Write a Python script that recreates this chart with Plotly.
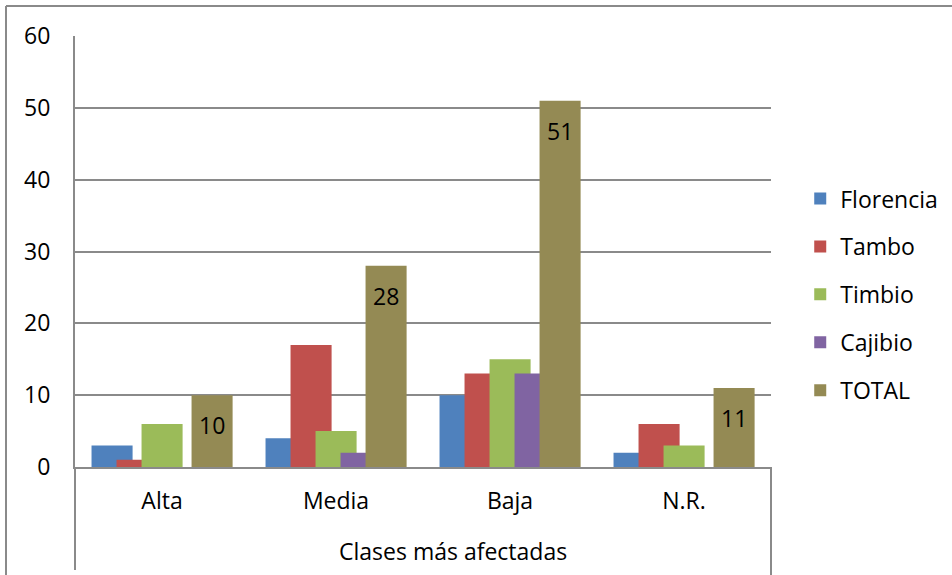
import plotly.graph_objects as go

# Datos
clases = ["Alta", "Media", "Baja", "N.R."]
florencia = [3, 4, 10, 2]
tambo = [1, 17, 13, 6]
timbio = [6, 5, 15, 3]
cajibio = [0, 2, 13, 0]
total = [10, 28, 51, 11]

series = [
    ("Florencia", florencia, "#4F81BD"),
    ("Tambo", tambo, "#C0504D"),
    ("Timbio", timbio, "#9BBB59"),
    ("Cajibio", cajibio, "#8064A2"),
    ("TOTAL", total, "#948A54"),
]

FONT = "Open Sans"
TAM = 23
GRIS = "#8a8a8a"

# barras superpuestas al estilo Excel (ancho y paso en unidades de categoría)
ancho = 0.236
paso = 0.1437
inicio = -0.405

fig = go.Figure()
for i, (nombre, valores, color) in enumerate(series):
    fig.add_trace(go.Bar(
        x=clases,
        y=valores,
        name=nombre,
        marker=dict(color=color, line=dict(width=0)),
        width=ancho,
        offset=inicio + i * paso,
        legendgroup=nombre,
    ))

# etiquetas de la serie TOTAL
centro_total = inicio + 4 * paso + ancho / 2
for i, v in enumerate(total):
    fig.add_annotation(
        x=i + centro_total, y=v, xref="x", yref="y",
        text=str(v), showarrow=False, yshift=-30,
        font=dict(family=FONT, size=TAM, color="#000000"),
    )

# título del eje de categorías
fig.add_annotation(
    x=(453 - 75) / 696, y=(467 - 551) / 431, xref="paper", yref="paper",
    xanchor="center", yanchor="middle",
    text="Clases más afectadas", showarrow=False,
    font=dict(family=FONT, size=TAM, color="#000000"),
)

# bordes de la tabla alrededor del gráfico
lineas = [
    (-69 / 696, 1.0696, 1.5, 1.0696),
    (-69 / 696, -0.26, -69 / 696, 1.0696),
    (0, 0, 0, -103 / 431),
    (1, 0, 1, -0.26),
]
for x0, y0, x1, y1 in lineas:
    fig.add_shape(type="line", xref="paper", yref="paper",
                  x0=x0, y0=y0, x1=x1, y1=y1,
                  line=dict(color=GRIS, width=2))

fig.update_layout(
    width=952, height=575,
    barmode="overlay",
    paper_bgcolor="white", plot_bgcolor="white",
    margin=dict(l=75, r=181, t=36, b=108, autoexpand=False),
    font=dict(family=FONT, size=TAM, color="#000000"),
    legend=dict(
        x=1.042, y=0.40, xanchor="left", yanchor="middle",
        font=dict(family=FONT, size=TAM),
        tracegroupgap=15,
        bgcolor="rgba(0,0,0,0)",
    ),
    showlegend=True,
)
fig.update_yaxes(
    range=[0, 60], dtick=10, tick0=0, automargin=False,
    showgrid=True, gridcolor=GRIS, gridwidth=2,
    showline=True, linecolor=GRIS, linewidth=2,
    zeroline=False, ticks="", ticklabelstandoff=18,
    tickfont=dict(family=FONT, size=TAM, color="#000000"),
)
fig.update_xaxes(
    automargin=False,
    showline=True, linecolor=GRIS, linewidth=2,
    ticks="", ticklabelstandoff=12,
    tickfont=dict(family=FONT, size=TAM, color="#000000"),
)

# quitar el margen por defecto del <body> para que la figura ocupe toda la ventana
fig.write_html(
    "out.html",
    config={"displayModeBar": False},
    post_script="document.body.style.margin = '0';",
)
